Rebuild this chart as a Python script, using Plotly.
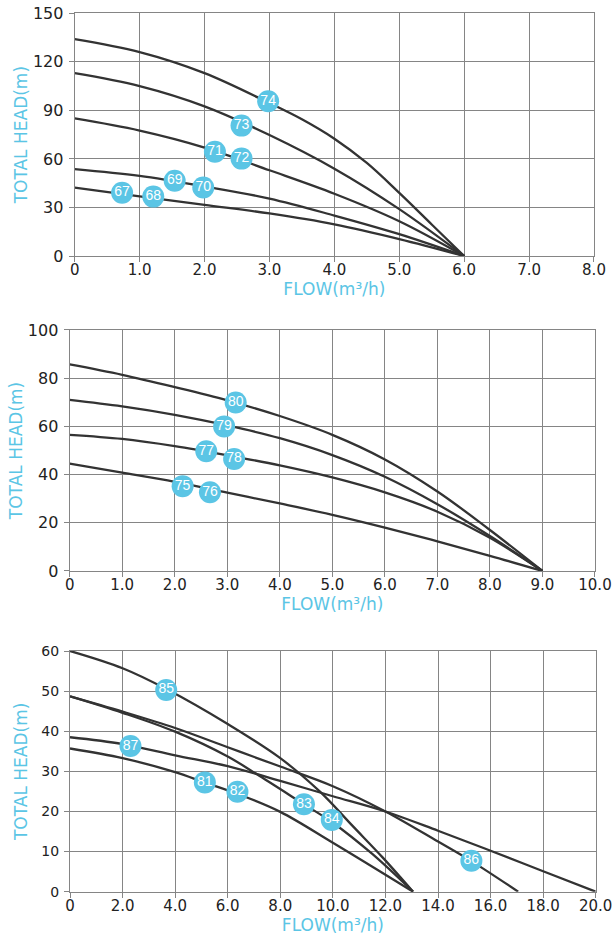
import plotly.graph_objects as go

# ---------------- Chart 1 (0-8 m3/h, 0-150 m) ----------------
c1_74x = [0, 1, 2, 3, 3.5, 4, 4.5, 5, 5.5, 6]
c1_74 = [134, 126, 113, 94.5, 84.5, 72.5, 57.5, 39, 19.5, 0]
c1_x = [0, 1, 2, 3, 4, 5, 6]
c1_73 = [113, 105, 92.5, 74.8, 54, 29, 0]
c1_71 = [85, 77.5, 67, 53, 38.5, 21.5, 0]
c1_69 = [53.7, 49.5, 43, 35.5, 25, 13.5, 0]
c1_67 = [42.2, 36.9, 31.6, 26.3, 19.6, 10.5, 0]
c1_lab = ["67", "68", "69", "70", "71", "72", "73", "74"]
c1_lab_x = [0.73, 1.21, 1.54, 1.98, 2.16, 2.57, 2.57, 2.98]
c1_lab_y = [39.1, 36.7, 46.5, 42.4, 64.5, 60.2, 80.6, 95.6]
c1_xt = [0, 1, 2, 3, 4, 5, 6, 7, 8]
c1_xtl = ["0", "1.0", "2.0", "3.0", "4.0", "5.0", "6.0", "7.0", "8.0"]
c1_yt = [0, 30, 60, 90, 120, 150]

# ---------------- Chart 2 (0-10 m3/h, 0-100 m) ----------------
c2_x = [0, 1, 2, 3, 4, 5, 6, 7, 8, 9]
c2_80 = [85.7, 81.4, 76.3, 70.8, 64.3, 56.5, 46.3, 33, 17, 0]
c2_79 = [71, 68.3, 64.8, 60.4, 55.1, 48.1, 39.1, 27.7, 14.5, 0]
c2_77 = [56.5, 54.8, 51.8, 48, 43.8, 38.8, 32.6, 24.6, 13.8, 0]
c2_75 = [44.5, 40.8, 37, 32.5, 28, 23.3, 18, 12.3, 6.3, 0]
c2_lab = ["75", "76", "77", "78", "79", "80"]
c2_lab_x = [2.15, 2.67, 2.6, 3.13, 2.94, 3.16]
c2_lab_y = [35.2, 32.7, 49.7, 46.5, 60, 69.9]
c2_xt = [0, 1, 2, 3, 4, 5, 6, 7, 8, 9, 10]
c2_xtl = ["0", "1.0", "2.0", "3.0", "4.0", "5.0", "6.0", "7.0", "8.0", "9.0", "10.0"]
c2_yt = [0, 20, 40, 60, 80, 100]

# ---------------- Chart 3 (0-20 m3/h, 0-60 m) ----------------
c3_85x = [0, 2, 3.7, 6, 8, 9.5, 10.75, 11.9, 13.05]
c3_85y = [60, 55.7, 50.4, 41.8, 33.3, 25, 16.4, 8.5, 0]
c3_83x = [0, 2, 4, 6, 7.2, 8.9, 10, 11.5, 13.05]
c3_83y = [48.7, 44.6, 39.9, 33.7, 28.9, 21.8, 17.2, 9.4, 0]
c3_86x = [0, 2, 4, 6, 8, 10, 12, 14, 15.3, 17.05]
c3_86y = [48.7, 44.9, 40.8, 36, 31.2, 26.3, 20, 12.5, 7.5, 0]
c3_87x = [0, 2, 4, 6, 8, 10, 12, 14, 16, 18, 20]
c3_87y = [38.5, 36.8, 34, 31.3, 27.6, 23.8, 20, 15.2, 10.2, 5.1, 0]
c3_81x = [0, 2, 4, 5.13, 6.37, 8, 10, 13.05]
c3_81y = [35.7, 33.3, 29.8, 27.2, 24.4, 19.9, 12.2, 0]
c3_lab = ["81", "82", "83", "84", "85", "86", "87"]
c3_lab_x = [5.13, 6.37, 8.9, 9.96, 3.66, 15.27, 2.3]
c3_lab_y = [27.25, 24.9, 21.8, 17.9, 50.3, 7.7, 36.3]
c3_xt = [0, 2, 4, 6, 8, 10, 12, 14, 16, 18, 20]
c3_xtl = ["0", "2.0", "4.0", "6.0", "8.0", "10.0", "12.0", "14.0", "16.0", "18.0", "20.0"]
c3_yt = [0, 10, 20, 30, 40, 50, 60]

LINE = "#333333"
BLUE = "#5BC5E5"
GRID = "#858585"
FONT = "DejaVu Sans"

fig = go.Figure()

def curve(x, y, ax):
    fig.add_trace(go.Scatter(x=x, y=y, mode="lines", xaxis="x" + ax, yaxis="y" + ax,
                             line=dict(color=LINE, width=2.3, shape="spline", smoothing=1.0),
                             hoverinfo="skip", showlegend=False))

def labels(x, y, t, ax):
    fig.add_trace(go.Scatter(x=x, y=y, text=t, mode="markers+text", xaxis="x" + ax, yaxis="y" + ax,
                             marker=dict(size=22, color=BLUE, line=dict(width=0)),
                             textposition="middle center",
                             textfont=dict(color="white", size=14, family="Liberation Sans"),
                             hoverinfo="skip", cliponaxis=False, showlegend=False))

curve(c1_74x, c1_74, "")
curve(c1_x, c1_73, "")
curve(c1_x, c1_71, "")
curve(c1_x, c1_69, "")
curve(c1_x, c1_67, "")
labels(c1_lab_x, c1_lab_y, c1_lab, "")

curve(c2_x, c2_80, "2")
curve(c2_x, c2_79, "2")
curve(c2_x, c2_77, "2")
curve(c2_x, c2_75, "2")
labels(c2_lab_x, c2_lab_y, c2_lab, "2")

curve(c3_85x, c3_85y, "3")
curve(c3_83x, c3_83y, "3")
curve(c3_86x, c3_86y, "3")
curve(c3_87x, c3_87y, "3")
curve(c3_81x, c3_81y, "3")
labels(c3_lab_x, c3_lab_y, c3_lab, "3")

def xax(dom, rng, tv, tt, anchor):
    return dict(domain=dom, range=rng, tickvals=tv, ticktext=tt, anchor=anchor, automargin=False,
                showgrid=True, gridcolor=GRID, gridwidth=1.2, zeroline=False,
                showline=True, linecolor=GRID, linewidth=1.2, mirror=True,
                ticks="outside", ticklen=5, tickcolor=GRID, tickwidth=1.2,
                ticklabelstandoff=-5,
                tickfont=dict(family=FONT, size=15, color="#222222"),
                title=dict(text="FLOW(m³/h)", font=dict(family=FONT, size=17, color=BLUE), standoff=4),
                fixedrange=True)

def yax(dom, rng, tv, anchor, fs, so):
    return dict(domain=dom, range=rng, tickvals=tv, ticktext=[str(v) for v in tv], anchor=anchor,
                automargin=False,
                showgrid=True, gridcolor=GRID, gridwidth=1.2, zeroline=False,
                showline=True, linecolor=GRID, linewidth=1.2, mirror=True,
                ticks="outside", ticklen=5, tickcolor=GRID, tickwidth=1.2,
                ticklabelstandoff=2,
                tickfont=dict(family=FONT, size=fs, color="#222222"),
                title=dict(text="TOTAL HEAD(m)", font=dict(family=FONT, size=17, color=BLUE), standoff=so),
                fixedrange=True)

fig.update_layout(
    width=613, height=945,
    margin=dict(l=0, r=0, t=0, b=0, autoexpand=False),
    paper_bgcolor="white", plot_bgcolor="white",
    showlegend=False, hovermode=False,
    xaxis=xax([0.1219, 0.9690], [0, 8], c1_xt, c1_xtl, "y"),
    yaxis=yax([0.7291, 0.9859], [0, 150], c1_yt, "x", 16, 0),
    xaxis2=xax([0.1137, 0.9706], [0, 10], c2_xt, c2_xtl, "y2"),
    yaxis2=yax([0.3958, 0.6508], [0, 100], c2_yt, "x2", 16, 0),
    xaxis3=xax([0.1142, 0.9718], [0, 20], c3_xt, c3_xtl, "y3"),
    yaxis3=yax([0.0564, 0.3111], [0, 60], c3_yt, "x3", 14, 9),
)

fig.write_html("out.html", config={"displayModeBar": False},
               post_script="document.body.style.margin='0';document.body.style.overflow='hidden';")
